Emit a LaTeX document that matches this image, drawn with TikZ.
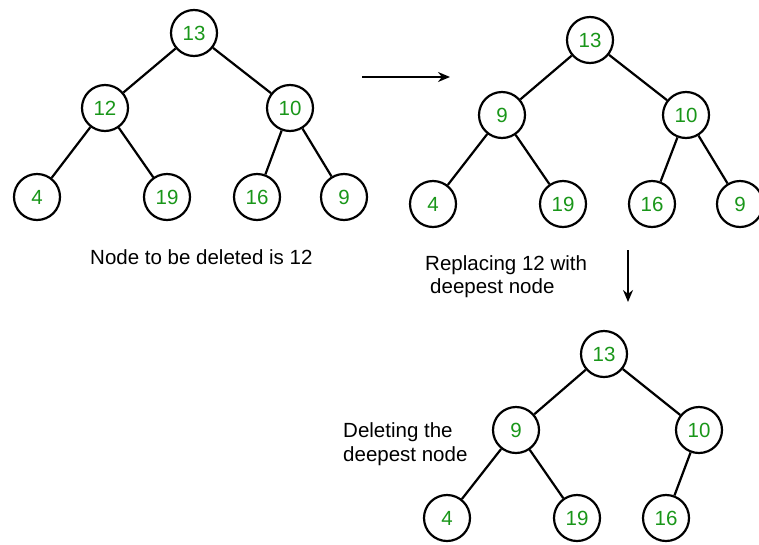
\documentclass[tikz,border=0pt]{standalone}
\usepackage{fontspec}
\setmainfont{Liberation Sans}
\usetikzlibrary{arrows.meta}
\definecolor{numgreen}{RGB}{25,150,25}
\begin{document}
\begin{tikzpicture}[x=1pt,y=-1pt,
  tn/.style={circle,draw=black,line width=2.2pt,minimum size=46pt,inner sep=0pt,
    text=numgreen,font=\fontsize{20.5}{24}\selectfont},
  edge/.style={line width=2.2pt},
  lbl/.style={font=\fontsize{20.5}{24}\selectfont,align=left,inner sep=0pt},
  arr/.style={line width=1.8pt,-{Stealth[length=12pt,width=10pt]}}]
\useasboundingbox (0,0) rectangle (759,544);
% tree 1
\node[tn] (a1) at (194,33) {13};
\node[tn] (a2) at (105,108) {12};
\node[tn] (a3) at (290,108) {10};
\node[tn] (a4) at (37,197) {4};
\node[tn] (a5) at (167,197) {19};
\node[tn] (a6) at (257,197) {16};
\node[tn] (a7) at (344,197) {9};
\draw[edge] (a1)--(a2) (a1)--(a3) (a2)--(a4) (a2)--(a5) (a3)--(a6) (a3)--(a7);
% tree 2
\node[tn] (b1) at (590,40) {13};
\node[tn] (b2) at (502,115) {9};
\node[tn] (b3) at (686,115) {10};
\node[tn] (b4) at (433,204) {4};
\node[tn] (b5) at (563,204) {19};
\node[tn] (b6) at (652,204) {16};
\node[tn] (b7) at (740,204) {9};
\draw[edge] (b1)--(b2) (b1)--(b3) (b2)--(b4) (b2)--(b5) (b3)--(b6) (b3)--(b7);
% tree 3
\node[tn] (c1) at (604,354) {13};
\node[tn] (c2) at (516,430) {9};
\node[tn] (c3) at (699,430) {10};
\node[tn] (c4) at (447,518) {4};
\node[tn] (c5) at (577,518) {19};
\node[tn] (c6) at (666,518) {16};
\draw[edge] (c1)--(c2) (c1)--(c3) (c2)--(c4) (c2)--(c5) (c3)--(c6);
% arrows
\coordinate (r1) at (362,77);
\coordinate (r2) at (450,77);
\draw[arr] (r1)--(r2);
\coordinate (d1) at (628,250);
\coordinate (d2) at (628,302);
\draw[arr] (d1)--(d2);
% labels
\node[lbl,anchor=west] (t1) at (90,257) {Node to be deleted is 12};
\node[lbl,anchor=west] (t2) at (425,265) {Replacing 12 with};
\node[lbl,anchor=west] (t3) at (430,288) {deepest node};
\node[lbl,anchor=west] (t4) at (343,432) {Deleting the};
\node[lbl,anchor=west] (t5) at (343,456) {deepest node};
\end{tikzpicture}
\end{document}
